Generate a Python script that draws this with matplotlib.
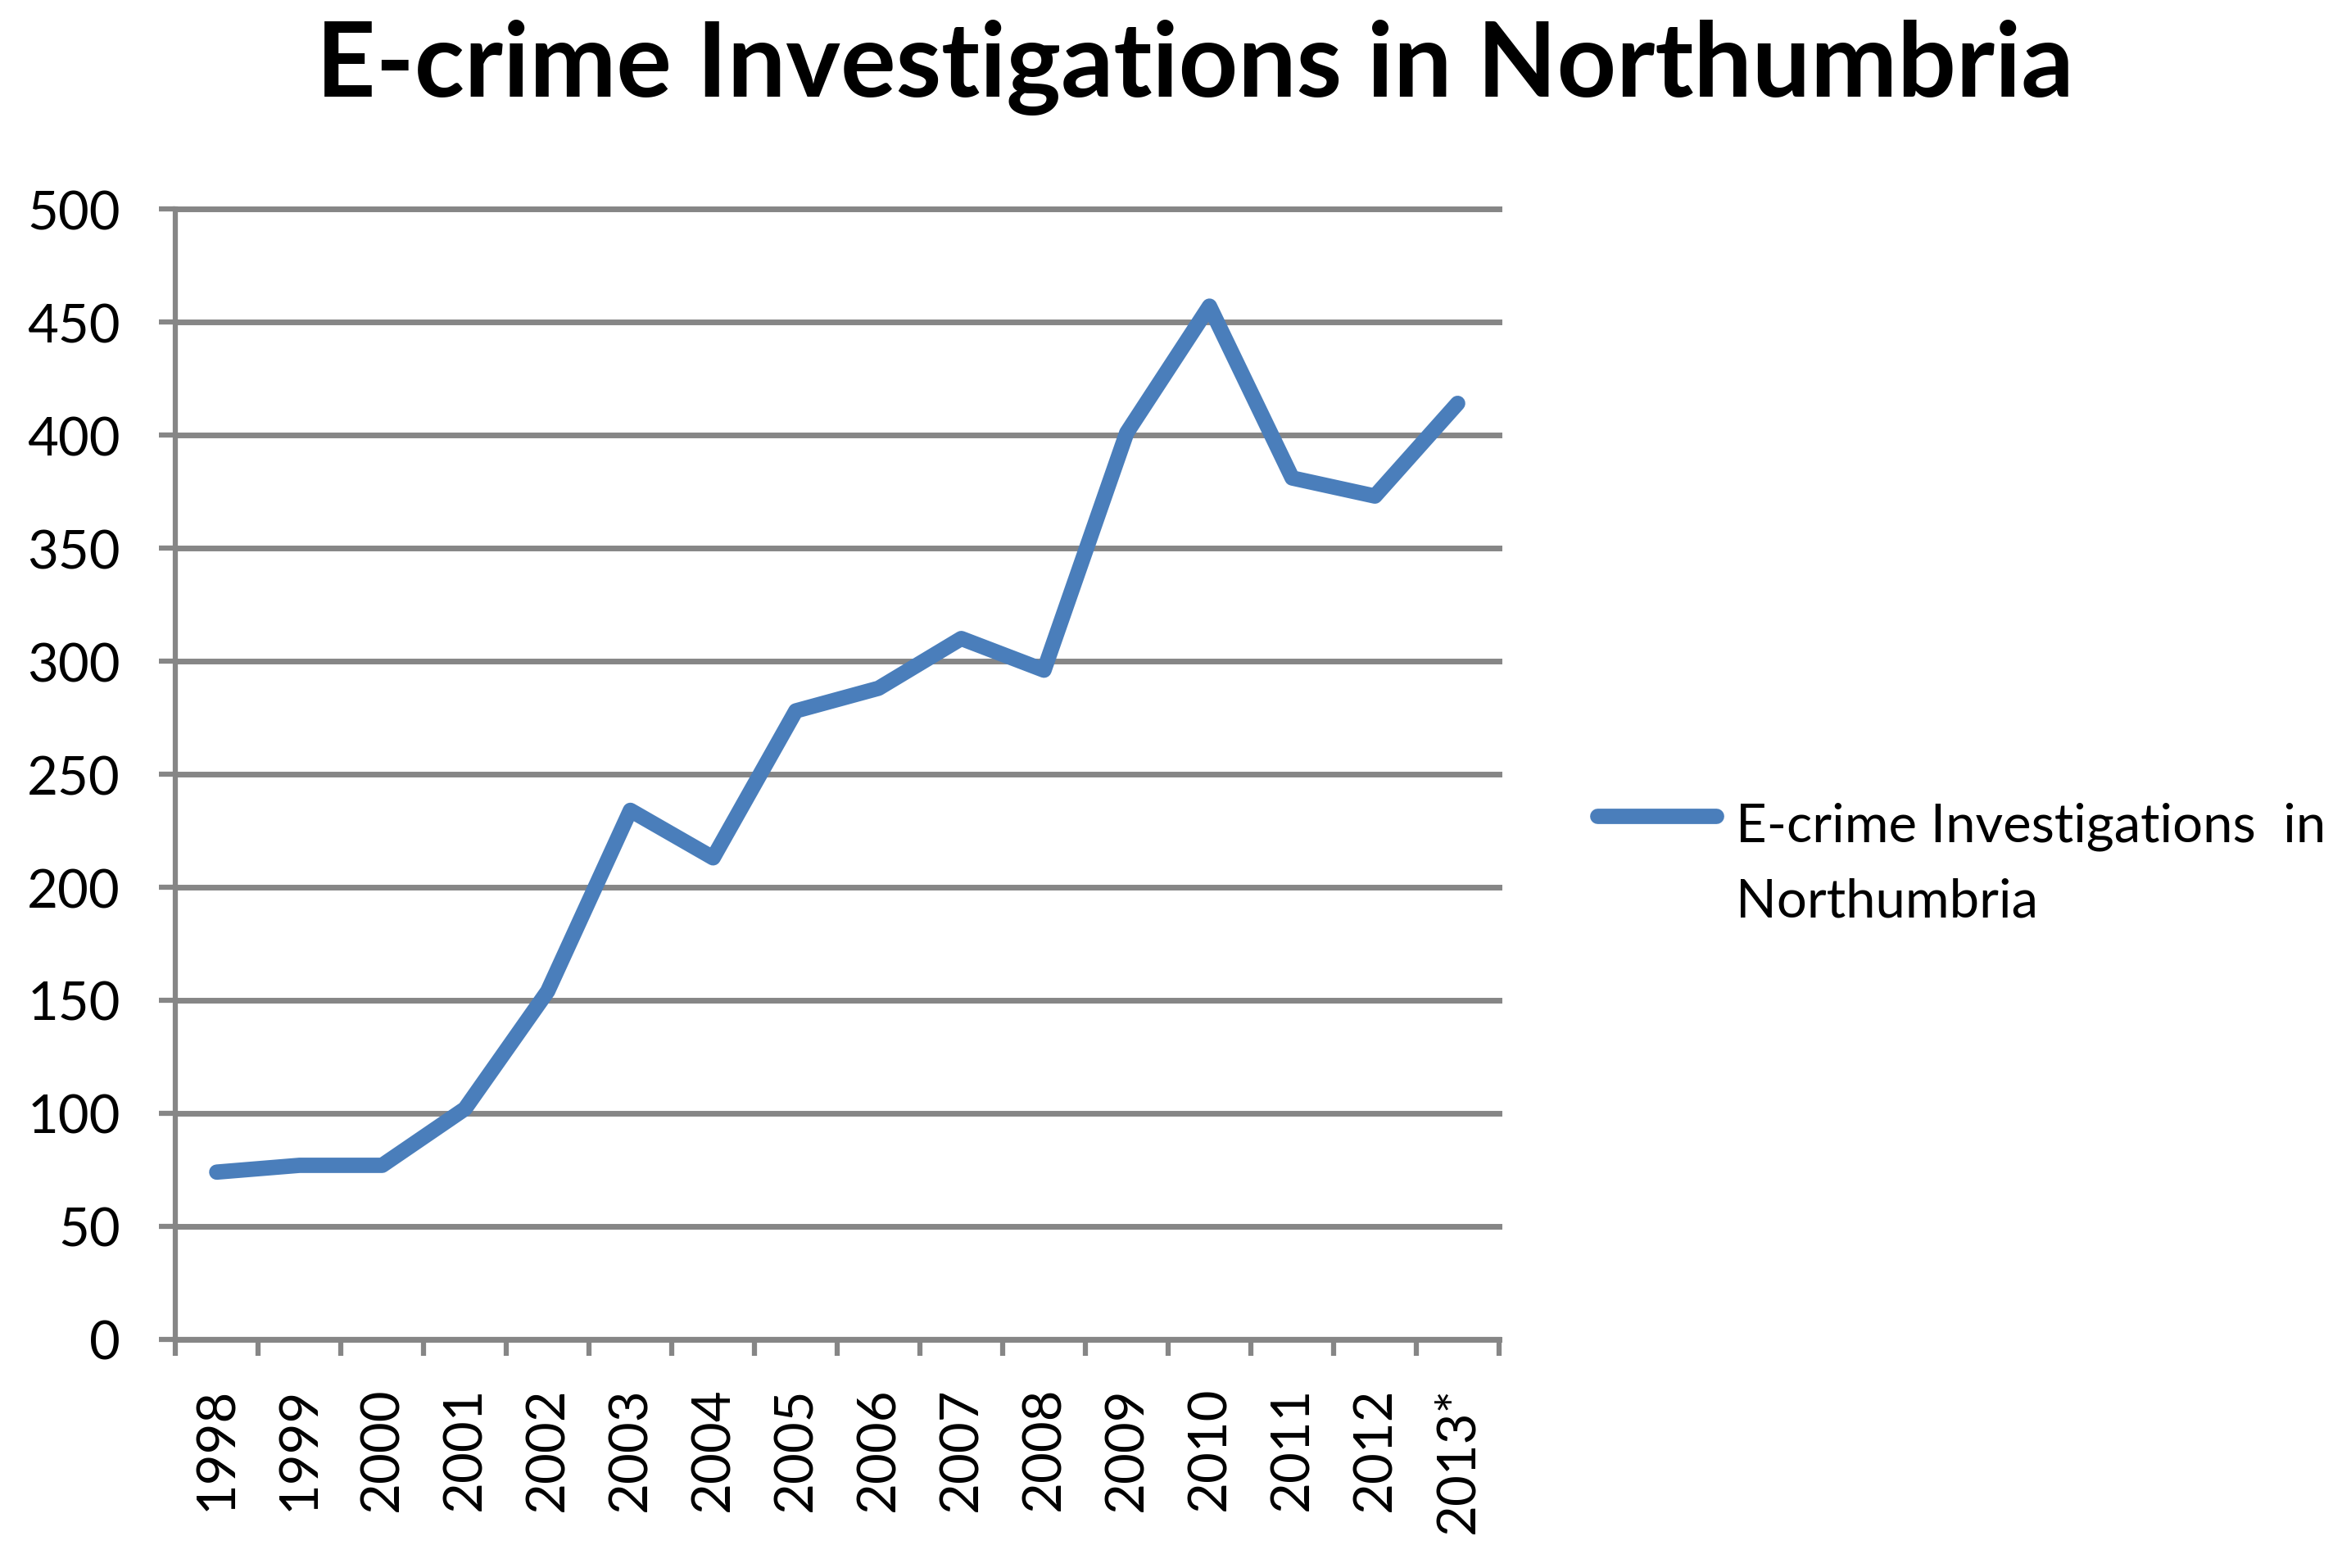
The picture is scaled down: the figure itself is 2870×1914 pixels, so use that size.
import matplotlib.pyplot as plt
from matplotlib.lines import Line2D

# data
years = ["1998", "1999", "2000", "2001", "2002", "2003", "2004", "2005",
         "2006", "2007", "2008", "2009", "2010", "2011", "2012", "2013*"]
counts = [74, 77, 77, 102, 154, 234, 213, 278, 288, 310, 296, 401, 457, 381, 373, 414]
title = "E-crime Investigations in Northumbria"
legend_lines = ["E-crime Investigations  in", "Northumbria"]

blue = "#4a7ebb"
grey = "#868686"

plt.rcParams["font.family"] = ["Lato", "DejaVu Sans"]

fig = plt.figure(figsize=(28.7, 19.15), dpi=100)
ax = fig.add_axes([0.0746, 0.1457, 0.5630, 0.7206])

x = list(range(len(years)))
ax.plot(x, counts, color=blue, lw=13.5, solid_joinstyle="round", solid_capstyle="round")

ax.set_xlim(-0.5, len(years) - 0.5)
ax.set_ylim(0, 500)
ax.set_yticks(range(0, 501, 50))
ax.yaxis.grid(True, color=grey, lw=5)
ax.set_axisbelow(True)
# keep the top gridline at full thickness
for gl in ax.get_ygridlines():
    gl.set_clip_on(False)

for s in ["top", "right"]:
    ax.spines[s].set_visible(False)
for s in ["left", "bottom"]:
    ax.spines[s].set_color(grey)
    ax.spines[s].set_linewidth(4.5)

# category ticks between the years, labels in the middle
ax.set_xticks([i - 0.5 for i in range(len(years) + 1)])
ax.set_xticklabels([])
ax.set_xticks(x, minor=True)
ax.set_xticklabels(years, minor=True, rotation=90)
ax.tick_params(axis="x", which="major", length=14.4, width=4.5, color=grey)
ax.tick_params(axis="x", which="minor", length=0, pad=41, labelsize=47)
ax.tick_params(axis="y", length=14.4, width=4.5, color=grey, pad=34, labelsize=47)

fig.text(0.5084, 0.957, title, ha="center", va="center", fontsize=91, weight="bold")

# legend drawn by hand so the key sits on the first line
fig.add_artist(Line2D([1950 / 2870, 2095 / 2870], [1 - 997 / 1915] * 2,
                      transform=fig.transFigure, color=blue, lw=13.5,
                      solid_capstyle="round"))
fig.text(2119 / 2870, 1 - 1028 / 1915, legend_lines[0], fontsize=47, va="baseline")
fig.text(2119 / 2870, 1 - 1120 / 1915, legend_lines[1], fontsize=47, va="baseline")

fig.savefig("out.png", dpi=100)
